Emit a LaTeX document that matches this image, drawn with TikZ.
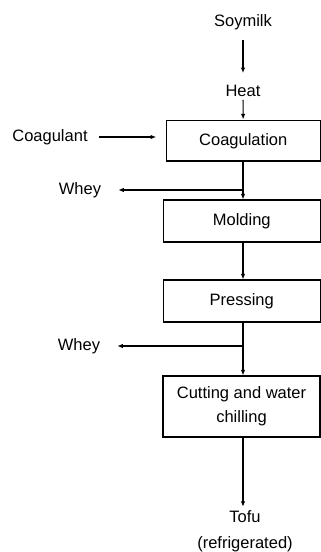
\documentclass[tikz,border=0pt]{standalone}
\usepackage{fontspec}
\setmainfont{Liberation Sans}
\usetikzlibrary{arrows.meta}

\begin{document}
\begin{tikzpicture}[x=1pt,y=-1pt,
  stepbox/.style={draw, line width=1.1pt, minimum width=157pt, minimum height=42pt, align=center, inner sep=0pt},
  lbl/.style={align=center, inner sep=0pt},
  arr/.style={line width=1.1pt, -{Latex[length=5.5pt,width=4.5pt]}}]
\useasboundingbox (0,0) rectangle (321,552);
\fontsize{16.5}{24}\selectfont

\node [lbl] (soymilk) at (243,22) {Soymilk};
\node [lbl] (heat) at (243,91) {Heat};
\node [stepbox, minimum width=154pt, minimum height=40.5pt] (coagulation) at (243.25,140.75) {Coagulation};
\node [lbl] (coagulant) at (50,137) {Coagulant};
\node [stepbox] (molding) at (241.75,221) {Molding};
\node [stepbox] (pressing) at (241.75,301) {Pressing};
\node [stepbox, minimum height=61pt] (cutting) at (241.5,406.5) {Cutting and water\\chilling};
\node [lbl, text depth=0pt] (tofu) at (245,530) {Tofu\\[2pt](refrigerated)};

\node [lbl] (whey1) at (80,190) {Whey};
\node [lbl] (whey2) at (79,346) {Whey};
\coordinate (w1) at (243,190);
\coordinate (w2) at (243,346);

\draw [arr, shorten <=10pt, shorten >=12pt] (soymilk) -- (heat);
\draw [arr, shorten <=3pt, shorten >=0.5pt] (heat) -- (coagulation);
\draw [arr, shorten <=11.5pt, shorten >=9.5pt] (coagulant) -- (coagulation.west |- coagulant);

\draw [arr] (coagulation.south -| w1) -- (molding.north -| w1);
\draw [arr, shorten >=17pt] (w1) -- (whey1);
\draw [arr] (molding.south -| w1) -- (pressing.north -| w1);
\draw [arr] (pressing.south -| w2) -- (cutting.north -| w2);
\draw [arr, shorten >=17pt] (w2) -- (whey2);
\draw [arr, shorten >=4pt] (cutting.south -| w2) -- (tofu.north -| w2);
\end{tikzpicture}
\end{document}
